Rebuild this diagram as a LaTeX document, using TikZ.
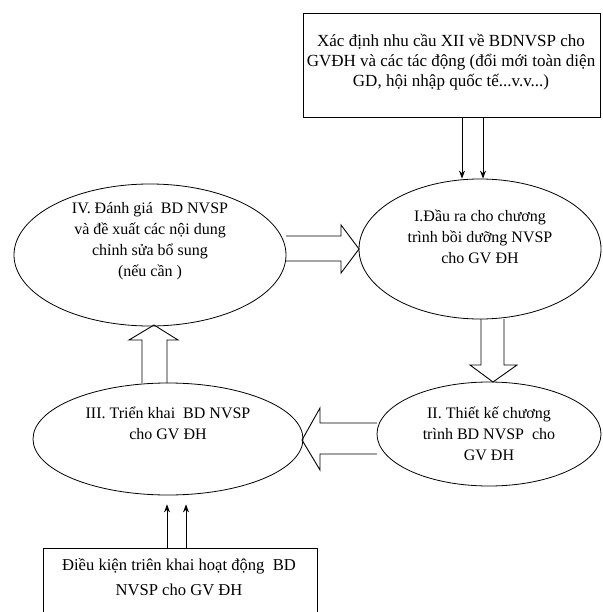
\documentclass[tikz,border=0pt]{standalone}
\usepackage{fontspec}
\setmainfont{Liberation Serif}
\usetikzlibrary{shapes.geometric,arrows.meta}

\begin{document}
\begin{tikzpicture}[x=1pt, y=-1pt,
    ellip/.style={ellipse, draw, line width=0.8pt, inner sep=0pt},
    txt/.style={align=center, inner sep=0pt, font=\fontsize{16}{21}\selectfont},
    box/.style={rectangle, draw, line width=0.7pt, inner sep=0pt},
    blockarr/.style={draw, line width=0.9pt, line join=miter},
    thinarr/.style={-{Stealth[length=8pt,width=6pt]}, line width=0.8pt}]
  \clip (0,0) rectangle (602,612);

  % boxes
  \node[box, minimum width=297pt, minimum height=104pt] (need) at (451.5,65) {};
  \node[txt, font=\fontsize{17}{20}\selectfont] (need-t) at (451,62)
    {Xác định nhu cầu XII về BDNVSP cho\\GVĐH và các tác động (đổi mới toàn diện\\GD, hội nhập quốc tế...v.v...)};
  \node[box, minimum width=274pt, minimum height=74pt] (cond) at (180,585) {};
  \node[txt, font=\fontsize{16.6}{25}\selectfont] (cond-t) at (179,577)
    {Điều kiện triên khai hoạt động\ \ BD\\NVSP cho GV ĐH};

  % ellipses
  \node[ellip, minimum width=242pt, minimum height=140pt] (i) at (480,249) {};
  \node[txt] (i-t) at (480,237) {I.Đầu ra cho chương\\trình bồi dưỡng NVSP\\cho GV ĐH};
  \node[ellip, minimum width=224pt, minimum height=104pt] (ii) at (489,434) {};
  \node[txt] (ii-t) at (489,434) {II. Thiết kế chương\\trình BD NVSP\ \ cho\\GV ĐH};
  \node[ellip, minimum width=270pt, minimum height=112pt] (iii) at (168,439) {};
  \node[txt] (iii-t) at (168,423) {III. Triển khai\ \ BD NVSP\\cho GV ĐH};
  \node[ellip, minimum width=272pt, minimum height=142pt] (iv) at (150,255) {};
  \node[txt] (iv-t) at (150,241) {IV. Đánh giá\ \ BD NVSP\\và đề xuất các nội dung\\chỉnh sửa bổ sung\\(nếu cần )};

  % block arrows
  \draw[blockarr] (286,236) -- (341,236) -- (341,225) -- (359,249) -- (341,273) -- (341,261) -- (286,261);
  \draw[blockarr] (481,319) -- (481,365) -- (470,365) -- (493,382) -- (517,365) -- (504,365) -- (504,319);
  \draw[blockarr] (377,423) -- (320,423) -- (320,408) -- (302,440) -- (320,470) -- (320,454) -- (377,454);
  \draw[blockarr] (142,383) -- (142,340) -- (129,340) -- (154,325) -- (178,340) -- (167,340) -- (167,383);

  % thin arrows
  \draw[thinarr] (need.south -| 462,0) -- (462,0 |- i.north);
  \draw[thinarr] (need.south -| 483,0) -- (483,0 |- i.north);
  \draw[thinarr, shorten >=9pt] (cond.north -| 167,0) -- (167,0 |- iii.south);
  \draw[thinarr, shorten >=9pt] (cond.north -| 186,0) -- (186,0 |- iii.south);
\end{tikzpicture}
\end{document}
